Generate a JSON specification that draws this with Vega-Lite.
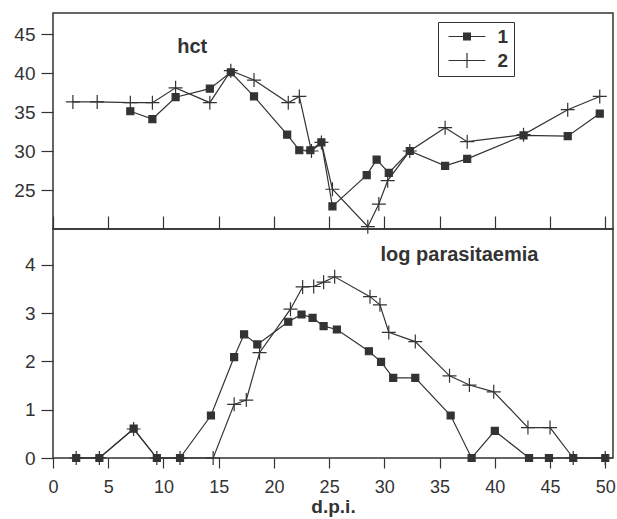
{
  "$schema": "https://vega.github.io/schema/vega-lite/v6.json",
  "padding": {"left": 12, "top": 12, "right": 5, "bottom": 0},
  "bounds": "flush",
  "spacing": 0,
  "background": "white",
  "config": {
    "font": "Liberation Sans",
    "view": {"stroke": "#333", "strokeWidth": 1.5},
    "axis": {"grid": false, "domain": false, "tickColor": "#333", "tickWidth": 1.2, "labelColor": "#333", "labelFont": "Liberation Sans", "titleColor": "#333", "titleFont": "Liberation Sans"},
    "legend": {
      "orient": "none", "legendX": 385, "legendY": 9, "padding": 5,
      "strokeColor": "#333", "fillColor": "white",
      "labelFontSize": 19, "labelFontWeight": "bold", "labelColor": "#333", "labelFont": "Liberation Sans",
      "labelOffset": 21, "symbolOffset": 14.5, "symbolSize": 256, "rowPadding": 4,
      "symbolFillColor": "#333", "symbolStrokeColor": "#333", "symbolStrokeWidth": 0, "symbolOpacity": 1
    }
  },
  "datasets": {
    "hct": [
      {"dpi": 7.0, "value": 35.1, "series": "1"},
      {"dpi": 9.0, "value": 34.1, "series": "1"},
      {"dpi": 11.1, "value": 36.9, "series": "1"},
      {"dpi": 14.2, "value": 38.0, "series": "1"},
      {"dpi": 16.1, "value": 40.1, "series": "1"},
      {"dpi": 18.2, "value": 37.0, "series": "1"},
      {"dpi": 21.2, "value": 32.1, "series": "1"},
      {"dpi": 22.3, "value": 30.1, "series": "1"},
      {"dpi": 23.3, "value": 30.1, "series": "1"},
      {"dpi": 24.3, "value": 31.1, "series": "1"},
      {"dpi": 25.3, "value": 22.9, "series": "1"},
      {"dpi": 28.4, "value": 26.9, "series": "1"},
      {"dpi": 29.3, "value": 28.9, "series": "1"},
      {"dpi": 30.4, "value": 27.2, "series": "1"},
      {"dpi": 32.3, "value": 30.0, "series": "1"},
      {"dpi": 35.5, "value": 28.1, "series": "1"},
      {"dpi": 37.5, "value": 29.0, "series": "1"},
      {"dpi": 42.6, "value": 32.0, "series": "1"},
      {"dpi": 46.6, "value": 31.9, "series": "1"},
      {"dpi": 49.5, "value": 34.8, "series": "1"},
      {"dpi": 1.8, "value": 36.3, "series": "2"},
      {"dpi": 4.0, "value": 36.3, "series": "2"},
      {"dpi": 7.0, "value": 36.2, "series": "2"},
      {"dpi": 9.0, "value": 36.2, "series": "2"},
      {"dpi": 11.1, "value": 38.1, "series": "2"},
      {"dpi": 14.2, "value": 36.2, "series": "2"},
      {"dpi": 16.1, "value": 40.3, "series": "2"},
      {"dpi": 18.2, "value": 39.1, "series": "2"},
      {"dpi": 21.3, "value": 36.2, "series": "2"},
      {"dpi": 22.3, "value": 37.0, "series": "2"},
      {"dpi": 23.4, "value": 30.0, "series": "2"},
      {"dpi": 24.3, "value": 31.1, "series": "2"},
      {"dpi": 25.3, "value": 25.1, "series": "2"},
      {"dpi": 28.5, "value": 20.3, "series": "2"},
      {"dpi": 29.5, "value": 23.2, "series": "2"},
      {"dpi": 30.3, "value": 26.2, "series": "2"},
      {"dpi": 32.3, "value": 30.0, "series": "2"},
      {"dpi": 35.5, "value": 33.0, "series": "2"},
      {"dpi": 37.5, "value": 31.2, "series": "2"},
      {"dpi": 42.6, "value": 32.1, "series": "2"},
      {"dpi": 46.6, "value": 35.3, "series": "2"},
      {"dpi": 49.5, "value": 37.0, "series": "2"}
    ],
    "para": [
      {"dpi": 2.1, "value": 0, "series": "1"},
      {"dpi": 4.2, "value": 0, "series": "1"},
      {"dpi": 7.3, "value": 0.61, "series": "1"},
      {"dpi": 9.4, "value": 0, "series": "1"},
      {"dpi": 11.5, "value": 0, "series": "1"},
      {"dpi": 14.3, "value": 0.88, "series": "1"},
      {"dpi": 16.4, "value": 2.09, "series": "1"},
      {"dpi": 17.3, "value": 2.56, "series": "1"},
      {"dpi": 18.5, "value": 2.35, "series": "1"},
      {"dpi": 21.3, "value": 2.82, "series": "1"},
      {"dpi": 22.5, "value": 2.97, "series": "1"},
      {"dpi": 23.5, "value": 2.9, "series": "1"},
      {"dpi": 24.5, "value": 2.73, "series": "1"},
      {"dpi": 25.7, "value": 2.66, "series": "1"},
      {"dpi": 28.6, "value": 2.21, "series": "1"},
      {"dpi": 29.7, "value": 1.99, "series": "1"},
      {"dpi": 30.8, "value": 1.66, "series": "1"},
      {"dpi": 32.8, "value": 1.66, "series": "1"},
      {"dpi": 36.0, "value": 0.88, "series": "1"},
      {"dpi": 37.9, "value": 0, "series": "1"},
      {"dpi": 40.0, "value": 0.56, "series": "1"},
      {"dpi": 43.1, "value": 0, "series": "1"},
      {"dpi": 44.9, "value": 0, "series": "1"},
      {"dpi": 47.1, "value": 0, "series": "1"},
      {"dpi": 50.0, "value": 0, "series": "1"},
      {"dpi": 2.1, "value": 0, "series": "2"},
      {"dpi": 4.2, "value": 0, "series": "2"},
      {"dpi": 7.3, "value": 0.6, "series": "2"},
      {"dpi": 9.4, "value": 0, "series": "2"},
      {"dpi": 11.5, "value": 0, "series": "2"},
      {"dpi": 14.5, "value": 0, "series": "2"},
      {"dpi": 16.4, "value": 1.11, "series": "2"},
      {"dpi": 17.5, "value": 1.2, "series": "2"},
      {"dpi": 18.7, "value": 2.18, "series": "2"},
      {"dpi": 21.5, "value": 3.08, "series": "2"},
      {"dpi": 22.6, "value": 3.54, "series": "2"},
      {"dpi": 23.6, "value": 3.55, "series": "2"},
      {"dpi": 24.5, "value": 3.64, "series": "2"},
      {"dpi": 25.5, "value": 3.75, "series": "2"},
      {"dpi": 28.7, "value": 3.34, "series": "2"},
      {"dpi": 29.6, "value": 3.17, "series": "2"},
      {"dpi": 30.4, "value": 2.6, "series": "2"},
      {"dpi": 32.8, "value": 2.41, "series": "2"},
      {"dpi": 35.9, "value": 1.7, "series": "2"},
      {"dpi": 37.7, "value": 1.51, "series": "2"},
      {"dpi": 39.9, "value": 1.37, "series": "2"},
      {"dpi": 43.0, "value": 0.63, "series": "2"},
      {"dpi": 45.0, "value": 0.63, "series": "2"},
      {"dpi": 47.1, "value": 0, "series": "2"},
      {"dpi": 50.0, "value": 0, "series": "2"}
    ],
    "labels": [
      {"panel": "hct", "label": "hct", "dpi": 12.6, "value": 43.3},
      {"panel": "para", "label": "log parasitaemia", "dpi": 36.8, "value": 4.21}
    ]
  },
  "vconcat": [
    {
      "width": 560,
      "height": 216,
      "layer": [
        {"data": {"name": "hct"},
         "mark": {"type": "line", "color": "#333", "strokeWidth": 1.2},
         "encoding": {
           "x": {"field": "dpi", "type": "quantitative", "scale": {"domain": [0, 50.7], "nice": false, "zero": false},
                 "axis": {"values": [0, 5, 10, 15, 20, 25, 30, 35, 40, 45, 50], "labels": false, "tickSize": -13, "title": null}},
           "y": {"field": "value", "type": "quantitative", "scale": {"domain": [20, 47.7], "nice": false, "zero": false},
                 "axis": {"values": [25, 30, 35, 40, 45], "tickSize": 12, "labelPadding": 6, "labelFontSize": 19, "title": null, "minExtent": 40, "maxExtent": 40}},
           "detail": {"field": "series", "type": "nominal"}}},
        {"data": {"name": "hct"},
         "mark": {"type": "point", "fill": "#333", "stroke": "#333", "strokeWidth": 1.2, "size": 196, "opacity": 1},
         "encoding": {
           "x": {"field": "dpi", "type": "quantitative"},
           "y": {"field": "value", "type": "quantitative"},
           "shape": {"field": "series", "type": "nominal",
             "scale": {"domain": ["1", "2"], "range": ["M-0.5,-0.5H0.5V0.5H-0.5Z", "M-1,0H1M0,-1V1"]}, "legend": null}}},
        {"data": {"name": "hct"},
         "transform": [{"filter": "datum.dpi < 0"}],
         "mark": {"type": "point", "filled": true, "color": "#333", "strokeWidth": 0, "size": 256, "opacity": 1},
         "encoding": {
           "x": {"field": "dpi", "type": "quantitative"},
           "y": {"field": "value", "type": "quantitative"},
           "shape": {"field": "series", "type": "nominal",
             "scale": {"domain": ["1", "2"], "range": [
               "M-2.3,-0.075H2.3V0.075H-2.3ZM-0.5,-0.5H0.5V0.5H-0.5Z",
               "M-2.3,-0.075H2.3V0.075H-2.3ZM-0.075,-0.94H0.075V0.94H-0.075Z"]},
             "legend": {"title": null}}}},
        {"data": {"name": "labels"},
         "transform": [{"filter": "datum.panel == 'hct'"}],
         "mark": {"type": "text", "fontSize": 20, "fontWeight": "bold", "color": "#333", "font": "Liberation Sans"},
         "encoding": {
           "x": {"field": "dpi", "type": "quantitative"},
           "y": {"field": "value", "type": "quantitative"},
           "text": {"field": "label", "type": "nominal"}}}
      ],
      "resolve": {"scale": {"shape": "independent"}}
    },
    {
      "width": 560,
      "height": 229,
      "layer": [
        {"data": {"name": "para"},
         "mark": {"type": "line", "color": "#333", "strokeWidth": 1.2},
         "encoding": {
           "x": {"field": "dpi", "type": "quantitative", "scale": {"domain": [0, 50.7], "nice": false, "zero": false},
                 "axis": {"values": [0, 5, 10, 15, 20, 25, 30, 35, 40, 45, 50], "tickSize": 10, "labelPadding": 10, "labelFontSize": 18, "labelFlush": false,
                          "title": "d.p.i.", "titleFontSize": 19, "titleFontWeight": "bold", "titlePadding": 1}},
           "y": {"field": "value", "type": "quantitative", "scale": {"domain": [0, 4.74], "nice": false, "zero": false},
                 "axis": {"values": [0, 1, 2, 3, 4], "tickSize": 12, "labelPadding": 6, "labelFontSize": 19, "title": null, "minExtent": 40, "maxExtent": 40}},
           "detail": {"field": "series", "type": "nominal"}}},
        {"data": {"name": "para"},
         "mark": {"type": "point", "fill": "#333", "stroke": "#333", "strokeWidth": 1.2, "size": 196, "opacity": 1},
         "encoding": {
           "x": {"field": "dpi", "type": "quantitative"},
           "y": {"field": "value", "type": "quantitative"},
           "shape": {"field": "series", "type": "nominal",
             "scale": {"domain": ["1", "2"], "range": ["M-0.5,-0.5H0.5V0.5H-0.5Z", "M-1,0H1M0,-1V1"]}, "legend": null}}},
        {"data": {"name": "labels"},
         "transform": [{"filter": "datum.panel == 'para'"}],
         "mark": {"type": "text", "fontSize": 20, "fontWeight": "bold", "color": "#333", "font": "Liberation Sans"},
         "encoding": {
           "x": {"field": "dpi", "type": "quantitative"},
           "y": {"field": "value", "type": "quantitative"},
           "text": {"field": "label", "type": "nominal"}}}
      ]
    }
  ]
}
